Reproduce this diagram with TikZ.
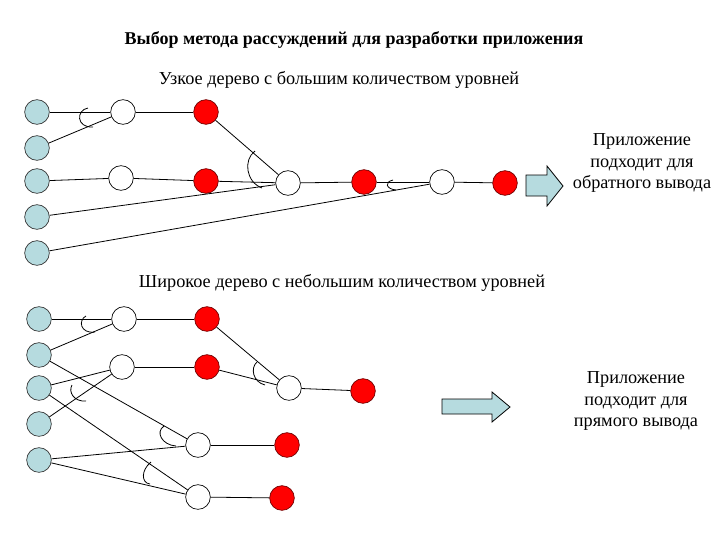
\documentclass[tikz,border=0pt]{standalone}
\usepackage{fontspec}
\setmainfont{Liberation Serif}
\definecolor{lblue}{RGB}{182,219,223}
\definecolor{rdraw}{RGB}{110,0,0}
\begin{document}
\begin{tikzpicture}[x=0.75pt,y=-0.75pt,
  every node/.style={inner sep=0pt},
  bl/.style={circle,draw=black!80,fill=lblue,minimum size=18.5pt,line width=0.5pt},
  wh/.style={circle,draw=black,fill=white,minimum size=18.5pt,line width=0.5pt},
  rd/.style={circle,draw=rdraw,fill=red,minimum size=18.5pt,line width=0.5pt},
  edge/.style={draw=black,line width=0.6pt},
  andarc/.style={draw=black,line width=0.6pt},
  arrowsty/.style={draw=black,fill=lblue,line width=0.6pt},
  lbl/.style={font=\fontsize{13.7}{15.8}\selectfont,align=center},
]
\useasboundingbox (0,0) rectangle (720,540);

% titles
\node[lbl,font=\fontsize{13.5}{15.8}\selectfont\bfseries] (title) at (354,40) {Выбор метода рассуждений для разработки приложения};
\node[lbl] (sub1) at (339,80) {Узкое дерево с большим количеством уровней};
\node[lbl] (sub2) at (342,283) {Широкое дерево с небольшим количеством уровней};
\node[lbl] (txt1) at (642,163) {Приложение\\подходит для\\обратного вывода};
\node[lbl] (txt2) at (636,401) {Приложение\\подходит для\\прямого вывода};

% top tree
\node[bl] (a1) at (37,112) {};
\node[bl] (a2) at (37,148) {};
\node[bl] (a3) at (37,181) {};
\node[bl] (a4) at (37,217) {};
\node[bl] (a5) at (37,253) {};
\node[wh] (aw1) at (123,112) {};
\node[wh] (aw2) at (121,178) {};
\node[rd] (ar1) at (206,112) {};
\node[rd] (ar2) at (206,181) {};
\node[wh] (aw3) at (288,183) {};
\node[rd] (ar3) at (364,182) {};
\node[wh] (aw4) at (442,182) {};
\node[rd] (ar4) at (505,183) {};

\draw[edge] (a1) -- (aw1);
\draw[edge] (a2) -- (aw1);
\draw[edge] (aw1) -- (ar1);
\draw[edge] (a3) -- (aw2);
\draw[edge] (aw2) -- (ar2);
\draw[edge] (ar1) -- (aw3);
\draw[edge] (ar2) -- (aw3);
\draw[edge] (a4) -- (aw3);
\draw[edge] (aw3) -- (ar3);
\draw[edge] (ar3) -- (aw4);
\draw[edge] (a5) -- (aw4);
\draw[edge] (aw4) -- (ar4);

\draw[andarc] (88,108) .. controls (76,110) and (76,128) .. (93,127);
\draw[andarc] (255,151) .. controls (243,160) and (246,182) .. (262,188);
\draw[andarc] (393,180) .. controls (384,182) and (386,189) .. (396,190);

\draw[arrowsty] (526,175) -- (547,175) -- (547,166) -- (563,186) -- (547,206) -- (547,196) -- (526,196) -- cycle;

% bottom tree
\node[bl] (b1) at (39,319) {};
\node[bl] (b2) at (39,355) {};
\node[bl] (b3) at (39,388) {};
\node[bl] (b4) at (39,424) {};
\node[bl] (b5) at (39,460) {};
\node[wh] (bw1) at (124,319) {};
\node[wh] (bw2) at (122,367) {};
\node[rd] (br1) at (207,319) {};
\node[rd] (br2) at (207,367) {};
\node[wh] (bw3) at (289,388) {};
\node[rd] (br3) at (363,391) {};
\node[wh] (bw5) at (198,445) {};
\node[wh] (bw6) at (198,497) {};
\node[rd] (br5) at (287,445) {};
\node[rd] (br6) at (282,498) {};

\draw[edge] (b1) -- (bw1);
\draw[edge] (b2) -- (bw1);
\draw[edge] (b3) -- (bw2);
\draw[edge] (b4) -- (bw2);
\draw[edge] (bw1) -- (br1);
\draw[edge] (bw2) -- (br2);
\draw[edge] (br1) -- (bw3);
\draw[edge] (br2) -- (bw3);
\draw[edge] (bw3) -- (br3);
\draw[edge] (b2) -- (bw5);
\draw[edge] (b5) -- (bw5);
\draw[edge] (b3) -- (bw6);
\draw[edge] (b5) -- (bw6);
\draw[edge] (bw5) -- (br5);
\draw[edge] (bw6) -- (br6);

\draw[andarc] (86,316) .. controls (78,320) and (80,334) .. (95,332);
\draw[andarc] (72,385) .. controls (68,392) and (74,402) .. (86,401);
\draw[andarc] (257,362) .. controls (250,368) and (253,382) .. (265,385);
\draw[andarc] (164,426) .. controls (155,432) and (162,445) .. (176,446);
\draw[andarc] (151,462) .. controls (141,470) and (141,483) .. (150,484);

\draw[arrowsty] (442,399) -- (492,399) -- (492,392) -- (510,407) -- (492,422) -- (492,414) -- (442,414) -- cycle;
\end{tikzpicture}
\end{document}
